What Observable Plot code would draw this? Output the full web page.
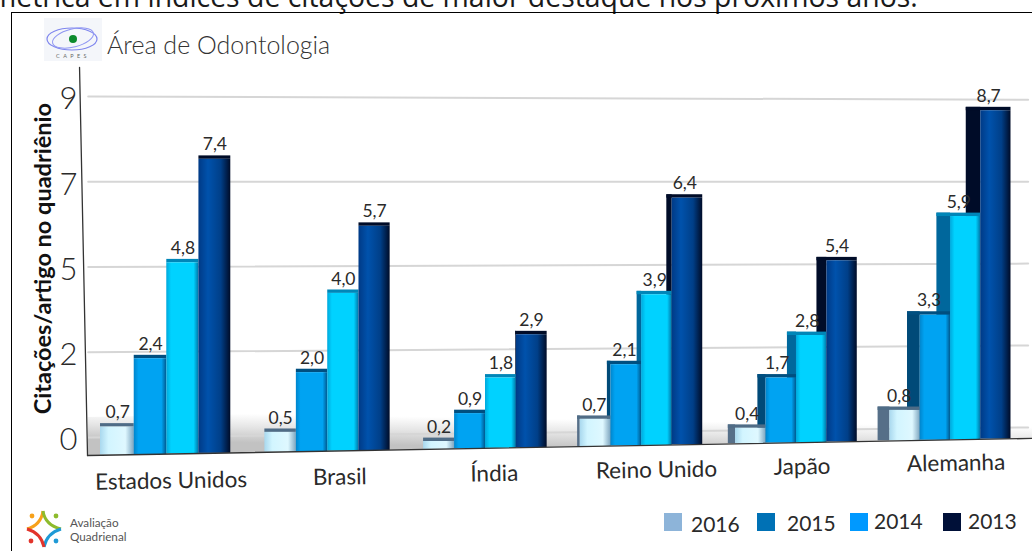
<!DOCTYPE html>
<html lang="pt">
<head>
<meta charset="utf-8">
<script src="https://cdn.jsdelivr.net/npm/d3@7"></script>
<script src="https://cdn.jsdelivr.net/npm/@observablehq/plot@0.6"></script>
<style>
html,body{margin:0;background:#fff}
#page{position:relative;width:1032px;height:551px;overflow:hidden;font-family:Lato,sans-serif;color:#2a2a2a}
#page>*{position:absolute}
#head{left:-10px;top:-23px;font:28.4px "Open Sans",sans-serif;white-space:nowrap;color:#1a1a1a}
#frame{left:11px;top:12px;width:1040px;height:560px;border:1.5px solid #000;box-sizing:border-box}
#area{left:107px;top:29px;font-size:25px;font-weight:300;color:#333}
#chart{left:0;top:0}
#brand{left:70px;top:515px;font-size:11.7px;line-height:14px;color:#555}
.lg{font-size:21px;color:#2a2a2a;line-height:1}
.sw{width:18px;height:18px}
</style>
</head>
<body>
<div id="page">
  <div id="head">métrica em índices de citações de maior destaque nos próximos anos.</div>
  <div id="frame"></div>
  <div id="chart"></div>
  <div id="area">Área de Odontologia</div>
  <div id="brand">Avaliação<br>Quadrienal</div>
  <svg style="left:44px;top:18px" width="58" height="44" viewBox="0 0 58 44">
    <rect width="58" height="43" fill="#f4f6fa"/>
    <ellipse cx="28" cy="21" rx="25" ry="11" fill="none" stroke="#7f86ee" stroke-width="1.2"/>
    <ellipse cx="29" cy="20" rx="21" ry="9" fill="none" stroke="#8f96f2" stroke-width="1" transform="rotate(-14 29 20)"/>
    <circle cx="29" cy="21" r="4" fill="#0c8a2c"/>
    <text x="29" y="40" font-size="5.5" text-anchor="middle" letter-spacing="3.4" fill="#666">CAPES</text>
  </svg>
  <svg style="left:24px;top:508px" width="40" height="42" viewBox="0 0 40 42">
    <path d="M3 21Q17 17 19 3" fill="none" stroke="#f7a11a" stroke-width="3"/>
    <path d="M19 3Q21 17 37 21" fill="none" stroke="#8dbb2c" stroke-width="3"/>
    <path d="M37 21Q23 25 20 39" fill="none" stroke="#1f9ad6" stroke-width="3"/>
    <path d="M20 39Q17 25 3 21" fill="none" stroke="#e2342b" stroke-width="3"/>
    <circle cx="8" cy="8" r="2.4" fill="#f7a11a"/><circle cx="32" cy="8" r="2.4" fill="#8dbb2c"/>
    <circle cx="7" cy="33" r="2.4" fill="#e2342b"/><circle cx="32" cy="33" r="2.4" fill="#1f9ad6"/>
  </svg>
</div>
<script>
const countries = ["Estados Unidos", "Brasil", "Índia", "Reino Unido", "Japão", "Alemanha"];
const years = [2016, 2015, 2014, 2013];
// Values printed above the bars
const v2016 = [0.7, 0.5, 0.2, 0.7, 0.4, 0.8];
const v2015 = [2.4, 2.0, 0.9, 2.1, 1.7, 3.3];
const v2014 = [4.8, 4.0, 1.8, 3.9, 2.8, 5.9];
const v2013 = [7.4, 5.7, 2.9, 6.4, 5.4, 8.7];
// The reference draws Japan's 2013 bar visibly shorter than its printed 5,4: this is the height as drawn
const v2013Drawn = [7.4, 5.7, 2.9, 6.4, 4.75, 8.7];
const yTicks = [0, 2.25, 4.5, 6.75, 9];
const yTickLabels = ["0", "2", "5", "7", "9"];
const series = [v2016, v2015, v2014, v2013];
const drawn = [v2016, v2015, v2014, v2013Drawn];
const legendColors = ["#8db4d9", "#0071b5", "#0099ff", "#001038"];
const sideColors = ["#566f88", "#004a78", "#00679c", "#000c28"];
const capColors = ["#4f6c86", "#004f80", "#0086b8", "#000c28"];
const labelShift = [0.42, 0.47, 0.45, 0.49, 0.43, 0.43];

// Perspective of the pseudo-3D picture, in units of the back-wall value scale
const barW = 0.197;
const floorAt = t => -0.47 + 0.075 * t;
const zoomAt = t => 1.056 - 0.0105 * t;
const depthAt = t => Math.max(0, 0.03 * (t - 2.44));
const wallAt = (v, t) => v + (0.264 - 0.039 * v) * t / 5.85;

const bars = countries.flatMap((c, g) => years.map((yr, b) => {
  const x1 = g + b * barW, x2 = x1 + barW, m = (x1 + x2) / 2;
  const base = floorAt(m), top = base + drawn[b][g] * zoomAt(m);
  return {c, yr, b, value: series[b][g], x1, x2, xs: x1 - depthAt(x1), base, top};
}));
const cap = 0.09;
const grid = yTicks.flatMap(v => [-0.07, 5.9].map(t => ({tick: v, t, y: wallAt(v, t)})));
const floorBand = [-0.07, 5.95].map(t => ({t, y1: floorAt(t), y2: floorAt(t) + 1}));
const labels = countries.map((c, g) => {
  const t = g + labelShift[g];
  return {c, t, y: floorAt(t) - 0.72 + 0.0175 * t};
});

const plot = Plot.plot({
  width: 1032, height: 551, marginLeft: 82, marginTop: 0, marginRight: 0, marginBottom: 0,
  style: {background: "transparent", fontFamily: "Lato, sans-serif"},
  x: {type: "pow", exponent: 0.975, domain: [0, 6], range: [100, 1043], axis: null},
  y: {domain: [0, 9], range: [437, 96], axis: null},
  marks: [
    Plot.areaY(floorBand, {x: "t", y1: "y1", y2: "y2", fill: "url(#floorG)"}),
    Plot.line(grid, {x: "t", y: "y", z: "tick", stroke: "#d6d6d6", strokeWidth: 2}),
    Plot.axisY(yTicks, {tickFormat: (d, i) => yTickLabels[i], tickSize: 0, tickPadding: 5, fontSize: 31, fontWeight: 300, dy: 3, label: null, fill: "#2a2a2a"}),
    Plot.line([[-0.121, 9.77], [-0.074, -0.475]], {stroke: "#333", strokeWidth: 1.3}),
    Plot.rect(bars, {x1: "xs", x2: "x1", y1: "base", y2: d => d.top + cap, fill: d => sideColors[d.b]}),
    Plot.rect(bars, {x1: "xs", x2: "x2", y1: "top", y2: d => d.top + cap, fill: d => capColors[d.b]}),
    Plot.rect(bars, {x1: "x1", x2: "x2", y1: "base", y2: "top", fill: d => `url(#bar${d.b})`}),
    Plot.line([[-0.074, floorAt(-0.074)], [5.95, floorAt(5.95)]], {stroke: "#333", strokeWidth: 1.3}),
    Plot.text(bars, {x: d => (d.xs + d.x2) / 2, y: d => d.top + cap, text: d => d.value.toFixed(1).replace(".", ","), dy: -11, fontSize: 17.5, fill: "#2a2a2a"}),
    Plot.text(labels, {x: "t", y: "y", text: "c", fontSize: 22.5, rotate: -1, fill: "#2a2a2a"}),
    Plot.text([{label: "Citações/artigo no quadriênio"}], {x: () => -0.337, y: () => 4.72, text: "label", rotate: -90, fontSize: 23.5, fontWeight: 700, fill: "#111"})
  ]
});

const stops = [
  [["0", "#a9d8ee"], [".25", "#d2f5ff"], [".75", "#dff8ff"], ["1", "#7ea6c0"]],
  [["0", "#0085cc"], [".15", "#00a3f2"], [".85", "#00a3f2"], ["1", "#00598f"]],
  [["0", "#00a8dc"], [".15", "#00d2ff"], [".85", "#00d2ff"], ["1", "#0076a8"]],
  [["0", "#003a86"], [".3", "#0052ac"], [".7", "#003f88"], ["1", "#000c28"]]
];
const defs = stops.map((s, i) => `<linearGradient id="bar${i}">${s.map(([o, c]) => `<stop offset="${o}" stop-color="${c}"/>`).join("")}</linearGradient>`).join("")
  + `<linearGradient id="floorG" gradientUnits="userSpaceOnUse" x1="500" y1="447" x2="500.5" y2="418"><stop offset="0" stop-color="#c2c2c2"/><stop offset=".55" stop-color="#e6e6e6"/><stop offset="1" stop-color="#fff"/></linearGradient>`;
plot.insertAdjacentHTML("afterbegin", `<defs>${defs}</defs>`);
document.getElementById("chart").append(plot);

const page = document.getElementById("page");
[[664, 513, 691, 513], [757, 513, 787, 512], [850, 513, 874, 510], [943, 513, 968, 510]].forEach(([sx, sy, tx, ty], i) => {
  const s = document.createElement("div");
  s.className = "sw"; s.style.cssText = `left:${sx}px;top:${sy}px;background:${legendColors[i]}`;
  const t = document.createElement("div");
  t.className = "lg"; t.style.cssText = `left:${tx}px;top:${ty}px`;
  t.textContent = years[i];
  page.append(s, t);
});
</script>
</body>
</html>
